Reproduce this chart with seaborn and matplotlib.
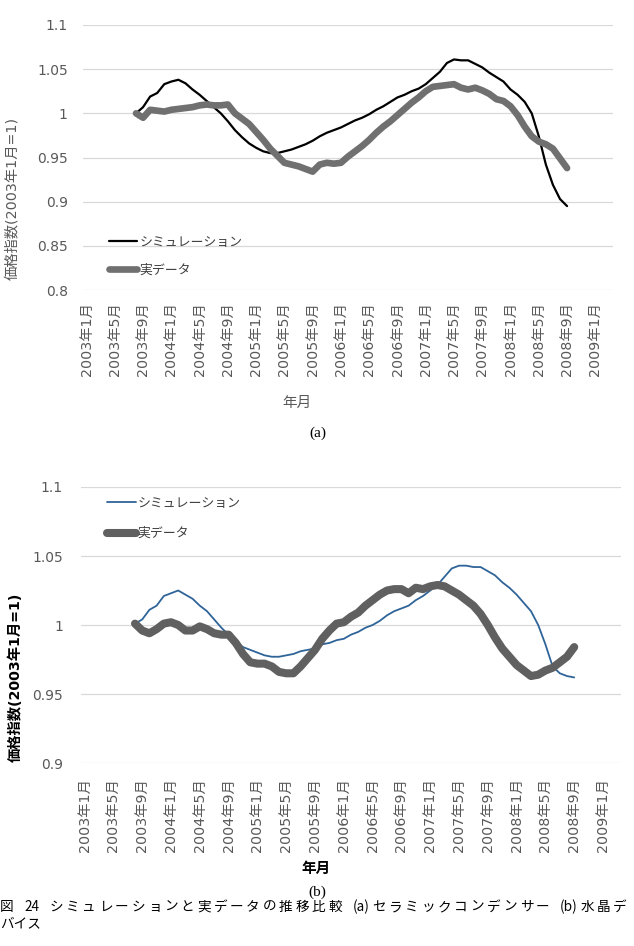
import numpy as np
import pandas as pd
import matplotlib
matplotlib.use("Agg")
import matplotlib.pyplot as plt
import seaborn as sns

sns.set_theme(style="white")
FAM = ['DejaVu Sans', 'Noto Sans CJK JP']
plt.rcParams['font.family'] = FAM

# ---------------- data ----------------
months = list(range(7, 69))  # month index, 0 = 2003年1月; data from 2003年8月 to 2008年9月

sim_a = [1.000, 1.007, 1.019, 1.023, 1.033, 1.036, 1.038, 1.034, 1.027, 1.021,
         1.014, 1.007, 1.000, 0.991, 0.981, 0.973, 0.966, 0.961, 0.957, 0.955,
         0.955, 0.957, 0.959, 0.962, 0.965, 0.969, 0.974, 0.978, 0.981, 0.984,
         0.988, 0.992, 0.995, 0.999, 1.004, 1.008, 1.013, 1.018, 1.021, 1.025,
         1.028, 1.033, 1.040, 1.047, 1.057, 1.061, 1.060, 1.060, 1.056, 1.052,
         1.046, 1.041, 1.036, 1.027, 1.021, 1.013, 1.000, 0.974, 0.942, 0.919,
         0.903, 0.895]
real_a = [1.000, 0.995, 1.004, 1.003, 1.002, 1.004, 1.005, 1.006, 1.007, 1.009,
          1.010, 1.009, 1.009, 1.010, 1.000, 0.994, 0.988, 0.979, 0.970, 0.960,
          0.952, 0.944, 0.942, 0.940, 0.937, 0.934, 0.942, 0.944, 0.943, 0.944,
          0.951, 0.957, 0.963, 0.970, 0.978, 0.985, 0.991, 0.998, 1.005, 1.012,
          1.018, 1.025, 1.030, 1.031, 1.032, 1.033, 1.029, 1.027, 1.029, 1.026,
          1.022, 1.016, 1.014, 1.008, 0.998, 0.985, 0.974, 0.968, 0.965, 0.960,
          0.949, 0.938]

sim_b = [1.001, 1.004, 1.011, 1.014, 1.021, 1.023, 1.025, 1.022, 1.019, 1.014,
         1.010, 1.004, 0.998, 0.993, 0.988, 0.984, 0.982, 0.980, 0.978, 0.977,
         0.977, 0.978, 0.979, 0.981, 0.982, 0.983, 0.986, 0.987, 0.989, 0.990,
         0.993, 0.995, 0.998, 1.000, 1.003, 1.007, 1.010, 1.012, 1.014, 1.018,
         1.021, 1.025, 1.029, 1.035, 1.041, 1.043, 1.043, 1.042, 1.042, 1.039,
         1.036, 1.031, 1.027, 1.022, 1.016, 1.010, 1.000, 0.986, 0.970, 0.965,
         0.963, 0.962]
real_b = [1.001, 0.996, 0.994, 0.997, 1.001, 1.002, 1.000, 0.996, 0.996, 0.999,
          0.997, 0.994, 0.993, 0.993, 0.987, 0.979, 0.973, 0.972, 0.972, 0.970,
          0.966, 0.965, 0.965, 0.970, 0.976, 0.982, 0.990, 0.996, 1.001, 1.002,
          1.006, 1.009, 1.014, 1.018, 1.022, 1.025, 1.026, 1.026, 1.023, 1.027,
          1.026, 1.028, 1.029, 1.028, 1.025, 1.022, 1.018, 1.014, 1.008, 1.000,
          0.991, 0.983, 0.977, 0.971, 0.967, 0.963, 0.964, 0.967, 0.969, 0.973,
          0.977, 0.984]

tick_months = list(range(0, 73, 4))
tick_labels = [f"{2003 + m // 12}年{m % 12 + 1}月" for m in tick_months]

series_names = ["シミュレーション", "実データ"]
ylabel = "価格指数(2003年1月=1)"
xlabel = "年月"
caption1 = "図 24 シミュレーションと実データの推移比較 (a)セラミックコンデンサー (b)水晶デ"
caption2 = "バイス"

W, H = 634, 946
fig = plt.figure(figsize=(W / 100, H / 100), dpi=100)
fig.patch.set_facecolor("white")

def fx(px):
    return px / W

def fy(py):
    return 1 - py / H

tick_color = "#595959"

def make_panel(rect, sim, real, sim_color, real_color, sim_lw, real_lw, ylim, yticks,
               legend_xy, labelspacing, xpad, ypad):
    ax = fig.add_axes(rect)
    df = pd.DataFrame({"month": months * 2,
                       "value": list(sim) + list(real),
                       "series": [series_names[0]] * len(sim) + [series_names[1]] * len(real)})
    sns.lineplot(data=df[df.series == series_names[0]], x="month", y="value",
                 color=sim_color, lw=sim_lw, ax=ax, label=series_names[0])
    sns.lineplot(data=df[df.series == series_names[1]], x="month", y="value",
                 color=real_color, lw=real_lw, ax=ax, label=series_names[1],
                 solid_capstyle="round", solid_joinstyle="round")
    ax.set_xlim(-0.5, 74.5)
    ax.set_ylim(*ylim)
    ax.set_yticks(yticks)
    ax.set_yticklabels([f"{v:g}" for v in yticks], color=tick_color, fontsize=10)
    ax.set_xticks(tick_months)
    ax.set_xticklabels(tick_labels, rotation=90, color=tick_color, fontsize=10.3)
    ax.tick_params(axis="both", length=0)
    ax.tick_params(axis="x", pad=xpad)
    ax.tick_params(axis="y", pad=ypad)
    ax.grid(axis="y", color="#d9d9d9", lw=0.9)
    ax.grid(axis="x", visible=False)
    for s in ax.spines.values():
        s.set_visible(False)
    ax.set_xlabel("")
    ax.set_ylabel("")
    leg = ax.legend(loc="center left", bbox_to_anchor=legend_xy, frameon=False,
                    handlelength=2.2, handletextpad=0.15, labelspacing=labelspacing,
                    fontsize=9.3, borderaxespad=0, borderpad=0)
    for t in leg.get_texts():
        t.set_color("#404040")
    return ax

# panel (a)
A_L, A_R, A_T, A_B = 83, 613, 25, 290
make_panel([fx(A_L), fy(A_B), fx(A_R) - fx(A_L), fy(A_T) - fy(A_B)],
           sim_a, real_a, "#000000", "#707070", 1.6, 4.8,
           (0.8, 1.1), [0.8, 0.85, 0.9, 0.95, 1.0, 1.05, 1.1],
           (0.049, 0.128), 1.15, 9, 11)
fig.text(fx(12), fy(198), ylabel, rotation=90, ha="center", va="center",
         fontsize=10.3, color=tick_color)
fig.text(fx(297), fy(402), xlabel, ha="center", va="center", fontsize=10.5, color=tick_color)
fig.text(fx(318), fy(433), "(a)", ha="center", va="center", fontsize=11,
         family=["Liberation Serif", "DejaVu Serif"], color="black")

# panel (b)
B_L, B_R, B_T, B_B = 81, 621, 487, 763
make_panel([fx(B_L), fy(B_B), fx(B_R) - fx(B_L), fy(B_T) - fy(B_B)],
           sim_b, real_b, "#2f6499", "#606060", 1.3, 5.8,
           (0.9, 1.1), [0.9, 0.95, 1.0, 1.05, 1.1],
           (0.049, 0.886), 1.33, 11, 13)
fig.text(fx(16), fy(677), ylabel, rotation=90, ha="center", va="center",
         fontsize=10.3, color="black", fontweight="bold")
fig.text(fx(316), fy(868), xlabel, ha="center", va="center", fontsize=10.5,
         color="black", fontweight="bold")
fig.text(fx(317), fy(892), "(b)", ha="center", va="center", fontsize=11,
         family=["Liberation Serif", "DejaVu Serif"], color="black")

# caption: justified across the page width, Latin runs kept together
renderer = fig.canvas.get_renderer()
cap_fs = 9.8
cap_fam = ['Noto Sans CJK JP', 'DejaVu Sans']

def tokenize(text):
    toks, buf = [], ""
    for ch in text:
        if ch.isascii() and ch != " ":
            buf += ch
        else:
            if buf:
                toks.append(buf)
                buf = ""
            toks.append(ch)
    if buf:
        toks.append(buf)
    return toks

def justified(text, y_px, x0, x1):
    toks = tokenize(text)
    widths = []
    for tk in toks:
        if tk == " ":
            widths.append(cap_fs * 100 / 72 * 0.35)
            continue
        t = fig.text(0, 0, tk, fontsize=cap_fs, family=cap_fam)
        widths.append(t.get_window_extent(renderer).width)
        t.remove()
    extra = (x1 - x0 - sum(widths)) / (len(toks) - 1)
    x = x0
    for tk, w in zip(toks, widths):
        if tk != " ":
            fig.text(fx(x), fy(y_px), tk, ha="left", va="center",
                     fontsize=cap_fs, family=cap_fam, color="black")
        x += w + extra

justified(caption1, 907, 0, 627)
fig.text(fx(0), fy(923), caption2, ha="left", va="center", fontsize=cap_fs,
         family=cap_fam, color="black")

fig.savefig("out.png", dpi=100, facecolor="white")
